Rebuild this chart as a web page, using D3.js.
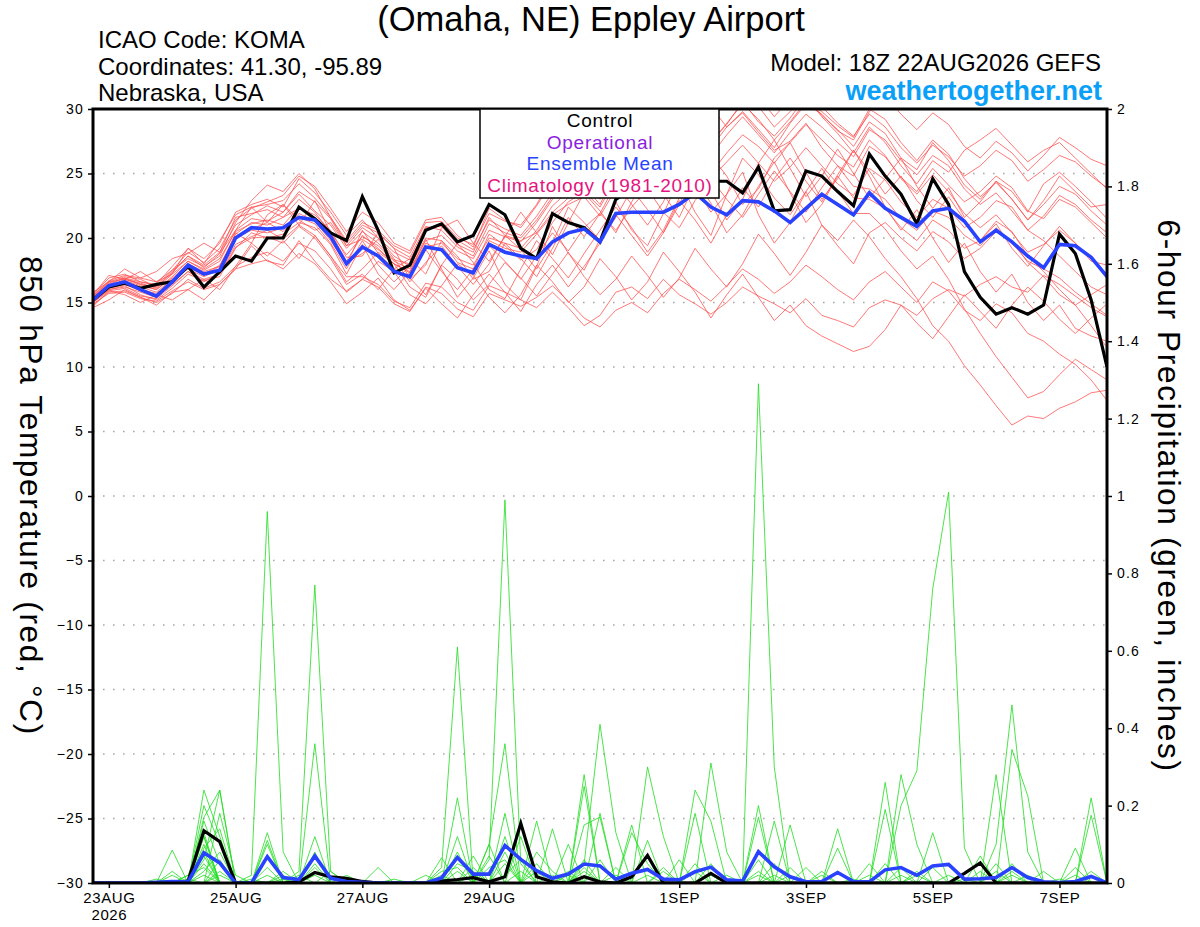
<!DOCTYPE html>
<html>
<head>
<meta charset="utf-8">
<script src="https://cdn.jsdelivr.net/npm/d3@7/dist/d3.min.js"></script>
<style>
  body { margin: 0; background: #fff; }
  text { font-family: "Liberation Sans", Arial, Helvetica, sans-serif; }
</style>
</head>
<body>
<svg id="chart" width="1200" height="927"></svg>
<script>
// run info
const runStart = Date.UTC(2026, 7, 22, 18)   // 18Z 22AUG2026
const stepHours = 6

const tempTicks = [-30, -25, -20, -15, -10, -5, 0, 5, 10, 15, 20, 25, 30]
const precipTicks = [0, 0.2, 0.4, 0.6, 0.8, 1, 1.2, 1.4, 1.6, 1.8, 2]
const dayTicks = ['2026-08-23', '2026-08-25', '2026-08-27', '2026-08-29', '2026-09-01', '2026-09-03', '2026-09-05', '2026-09-07']
const dayLabels = ['23AUG', '25AUG', '27AUG', '29AUG', '1SEP', '3SEP', '5SEP', '7SEP']
const legendItems = ['Control', 'Operational', 'Ensemble Mean', 'Climatology (1981-2010)']

// control run + ensemble mean, 850 hPa temp (C)
const controlTemp = [15.2,16.2,16.5,16.1,16.4,16.6,17.8,16.2,17.4,18.6, 18.2,20.0,20.0,22.4,21.5,20.4,19.8,23.2,20.6,17.3,
  17.9,20.6,21.1,19.7,20.2,22.6,21.8,19.2,18.4,21.9, 21.2,20.8,19.7,23.0,23.8,24.0,23.5,24.2,24.8,24.4,
  24.4,23.5,25.5,22.1,22.2,25.2,24.8,23.6,22.5,26.5, 24.8,23.4,21.1,24.6,22.6,17.4,15.4,14.1,14.6,14.1, 14.8,20.3,18.8,15.2,10.0]
const meanTemp = [15.2,16.3,16.6,16.0,15.5,16.6,17.9,17.2,17.5,20.0, 20.8,20.7,20.8,21.6,21.4,20.1,18.0,19.3,18.6,17.4,
  17.0,19.3,19.1,17.7,17.3,19.5,18.9,18.6,18.4,19.7, 20.4,20.7,19.7,21.9,22.0,22.0,22.0,22.6,23.5,22.4,
  21.8,22.9,22.8,22.1,21.2,22.3,23.4,22.6,21.8,23.5, 22.3,21.6,20.9,22.1,22.3,21.3,19.7,20.6,19.7,18.6, 17.7,19.5,19.4,18.5,17.0]

// 6-hour precip (in)
const controlPrecip = [0,0,0,0,0, 0,.005,.135,.107,0, 0,0,0,.003,.027, .016,.012,.004,0,0, 0,0,.005,.009,.014,
  .003,.016,.154,.016,.003, 0,.016,.003,0,.016, .071,0,0,0,.025, 0,0,0,0,0, 0,0,0,0,0, 0,0,0,0,0, .025,.052,0,0,0, 0,0,0,0,0]
const meanPrecip = [0,0,0,0,.002, .004,.003,.078,.052,0, 0,.068,.014,.009,.07, .012,.004,.002,0,0, 0,0,.013,.066,.023,
  .023,.097,.061,.032,.012, .023,.049,.044,.01,.025, .035,.01,.008,.029,.041, .008,.005,.081,.042,.016,
  .003,.004,.027,.004,.003, .034,.04,.02,.044,.048, .01,.011,.014,.04,.014, .003,.001,.004,.017,0]

// ensemble members, temperature
const t01 = [15.4,16.6,17.0,16.8,16.2,17.4,18.6,17.9,18.9, 21.0,21.8,22.5,22.0,23.4,22.1,21.0,19.2,
  20.5,19.6,18.3,18.0,20.8,20.9,19.5,18.9,21.6,20.2,19.8,20.4,22.0,23.1,24.0,22.6,
  25.1,26.3,25.4,27.0,28.2,29.1,27.5,28.8,30.6,29.0,27.9,29.3,31.0,29.5,28.4,27.1,
  29.0,28.1,26.2,25.3,27.4,26.0,24.1,23.0,24.4,23.6,22.0,24.2,25.1,24.0,22.8,21.5]
const t02 = [15.0,16.0,16.3,15.6,15.2,16.1,17.2,16.7,17.0, 19.2,20.4,20.0,20.3,21.2,20.8,19.5,17.2,
  19.5,17.2,16.0,17.4,19.9,17.6,15.4,16.9,19.0,16.4,15.2,17.8,20.9,18.8,17.5,19.9,
  22.8,20.6,19.4,21.9,24.5,22.0,20.2,23.4,25.1,21.8,19.6,21.2,23.6,21.0,19.8,21.4,
  20.1,18.4,17.0,15.3,13.2,12.0,10.1,8.6,7.0,5.5,6.2,6.0,6.8,7.3,8.0,8.2]
const t03 = [14.8,15.8,15.9,15.4,15.0,15.7,16.8,16.1,16.6, 17.8,19.6,18.6,19.8,18.4,20.2,18.6,17.0,
  17.0,16.4,15.1,14.6,16.5,16.2,15.0,14.4,16.3,15.8,15.2,14.6,15.8,14.6,13.2,14.0,
  15.8,16.2,15.3,16.8,15.6,14.9,14.1,15.0,16.2,15.5,14.9,14.2,15.3,14.0,13.6,13.1,
  14.6,15.2,14.8,14.0,15.3,16.0,15.5,16.4,17.0,16.2,15.8,17.1,16.4,15.5,14.6,13.9]
const t04 = [15.6,16.9,17.2,16.6,16.4,17.8,19.2,18.4,19.6, 22.0,22.6,23.0,22.4,24.6,23.5,22.0,20.2,
  21.4,20.0,18.6,17.8,20.0,19.8,18.1,17.6,20.3,19.4,18.3,19.1,21.2,22.8,23.6,22.4,
  24.6,25.8,26.9,28.5,27.6,29.4,30.2,28.6,29.7,28.2,26.8,27.5,28.9,27.0,25.6,24.8,
  27.1,26.3,24.7,23.6,25.4,24.1,22.8,23.6,24.8,23.9,22.1,21.5,23.0,22.4,21.2,20.0]
const t05 = [15.1,16.2,16.8,16.4,16.0,16.9,18.0,17.4,17.8, 20.3,21.2,21.0,21.6,22.3,21.8,20.6,18.5,
  18.6,20.4,19.2,16.8,17.9,20.8,21.4,19.6,18.2,20.1,22.0,20.4,18.7,21.2,23.5,22.1,
  20.4,22.8,25.0,23.4,21.6,24.2,26.4,24.8,22.6,23.8,26.2,27.4,25.1,23.0,24.6,26.8,
  24.8,22.4,20.6,22.2,20.0,18.1,19.6,17.4,15.8,17.2,15.0,13.6,14.8,13.0,12.4,12.0]
const t06 = [14.7,15.9,15.6,15.0,15.6,15.2,16.0,16.8,16.0, 17.8,18.5,18.9,18.2,19.6,19.0,17.6,15.8,
  16.8,18.2,17.4,15.6,14.9,16.3,18.0,17.1,15.4,14.2,15.6,17.9,16.6,15.0,16.2,18.4,
  17.0,15.2,16.6,18.9,17.4,15.8,13.8,15.6,17.2,15.4,13.6,14.8,13.2,12.4,11.8,11.2,
  11.6,12.9,14.8,13.4,12.2,13.9,15.6,14.3,13.0,14.8,16.2,15.1,13.7,12.6,13.8,14.9]
const t07 = [15.5,16.7,17.1,16.9,16.6,17.5,18.9,18.1,19.2, 21.4,22.3,22.8,23.3,24.8,24.0,22.3,20.5,
  22.0,21.2,19.6,19.0,21.4,21.6,20.2,19.3,22.3,21.4,20.8,22.5,24.4,25.8,27.0,25.2,
  27.4,28.8,27.2,29.4,30.8,31.4,29.6,30.6,31.8,30.2,28.6,29.8,30.9,29.4,28.1,26.6,
  28.6,27.4,25.6,24.2,26.0,25.1,26.8,27.6,28.5,27.2,25.9,26.8,27.4,26.2,25.0,23.8]
const t08 = [15.3,16.4,16.5,16.2,15.8,16.8,17.6,17.0,17.6, 20.4,19.6,21.8,22.6,21.0,22.9,20.4,18.2,
  20.2,19.2,18.0,17.4,19.6,19.0,17.8,17.2,19.8,19.2,18.9,20.3,21.8,22.6,23.2,21.7,
  23.8,24.9,24.2,25.8,26.4,25.3,24.6,25.9,27.2,25.8,24.4,25.5,27.0,25.6,24.2,23.3,
  25.4,24.5,22.8,21.6,23.0,22.3,20.8,21.6,22.9,22.4,20.6,21.7,23.3,22.6,21.4,20.4]
const t09 = [15.0,15.9,16.1,15.5,15.3,16.3,17.4,16.6,17.3, 19.5,20.1,20.6,19.9,21.0,20.2,18.6,16.6,
  17.6,18.9,18.0,16.2,15.4,17.9,19.6,18.1,16.0,15.3,17.6,19.8,18.4,16.9,18.8,20.6,
  22.4,20.8,18.9,20.6,23.1,24.6,22.7,20.4,21.8,24.0,25.9,23.5,21.2,22.6,24.8,23.1,
  23.0,22.3,20.8,19.8,21.4,20.6,19.2,19.8,21.3,20.5,18.6,17.4,16.0,14.8,13.2,11.5]
const t10 = [15.8,16.6,17.6,16.9,17.4,18.4,18.8,19.6,18.9, 21.6,21.9,22.2,21.6,23.0,22.0,20.4,18.7,
  20.1,19.4,18.2,17.6,19.8,20.2,19.0,18.4,20.6,20.1,19.7,21.2,23.0,24.2,25.5,24.1,
  26.0,27.2,26.1,27.8,29.0,28.1,27.0,28.6,29.8,28.4,27.0,28.9,30.4,29.6,28.3,27.6,
  29.8,31.0,29.6,28.4,29.7,28.8,27.1,26.2,27.5,26.6,25.2,26.4,27.8,27.0,26.1,25.6]
const t11 = [15.2,16.1,16.4,15.9,15.6,16.5,17.7,17.2,17.9, 20.1,20.7,21.2,20.5,21.9,21.3,19.8,17.9,
  20.6,18.8,17.6,18.4,17.2,19.8,18.6,16.8,17.4,19.6,18.4,17.0,19.2,21.6,20.1,21.9,
  24.2,22.6,21.0,22.8,25.6,24.0,22.0,23.4,26.2,24.9,23.1,21.8,23.6,25.4,23.6,21.9,
  21.9,20.7,19.0,17.6,18.6,16.8,14.5,12.6,10.8,9.2,7.6,8.1,9.4,10.6,9.8,9.0]
const t12 = [15.4,16.5,16.9,16.6,16.3,17.5,18.4,17.8,18.6, 21.2,22.9,24.1,23.6,25.0,23.8,21.6,19.6,
  21.0,20.4,19.2,18.5,20.9,20.6,19.3,18.6,21.1,20.4,20.0,21.4,23.2,23.9,24.8,23.0,
  25.1,26.0,24.9,26.4,27.2,26.0,25.0,26.6,28.0,27.1,25.8,27.4,28.8,27.6,26.4,25.5,
  27.6,26.4,24.6,23.4,24.9,23.6,21.9,20.8,21.8,20.4,18.9,19.5,20.6,19.6,18.4,17.2]
const t13 = [14.6,15.2,16.0,15.4,14.8,15.8,16.0,15.2,16.4, 17.6,18.0,18.3,17.6,18.8,18.0,16.6,14.9,
  15.8,16.9,15.2,14.4,16.1,14.9,13.8,15.6,17.2,15.8,14.3,16.4,17.9,16.2,17.8,19.6,
  21.8,20.2,18.6,20.4,22.9,21.4,19.6,21.8,23.9,22.4,24.6,26.2,24.4,22.8,24.9,26.8,
  25.2,23.4,24.8,22.9,21.6,23.2,21.4,19.8,21.1,19.2,17.8,19.4,20.9,19.6,18.2,17.9]
const t14 = [15.3,16.3,16.7,16.3,16.0,17.0,18.2,17.5,18.2, 20.6,21.5,21.3,22.0,23.6,22.8,21.5,19.4,
  20.8,20.0,18.9,18.3,20.6,21.0,19.8,19.1,21.4,20.7,20.2,21.7,23.5,24.8,25.9,24.5,
  26.6,27.8,26.6,28.0,29.2,28.4,27.3,28.9,30.4,29.2,27.6,29.0,30.6,29.8,28.7,27.8,
  30.0,29.2,27.4,26.0,27.6,26.5,24.6,23.2,24.3,23.0,21.4,22.6,24.0,23.4,22.1,21.0]
const t15 = [14.9,15.7,15.8,15.3,15.1,15.9,16.6,16.0,16.4, 17.6,19.4,18.2,17.9,19.8,18.2,16.8,15.9,
  16.8,16.2,14.9,14.3,16.2,15.7,14.5,13.9,15.7,15.2,14.7,15.4,16.3,15.1,13.8,13.1,
  14.4,15.0,14.2,15.7,16.8,16.0,15.1,16.3,17.6,16.8,15.7,16.6,17.9,17.0,16.0,15.2,
  16.6,17.4,16.2,15.0,16.6,15.9,14.4,13.6,14.9,14.2,12.6,12.0,11.0,10.2,9.0,7.4]
const t16 = [15.5,16.6,16.8,16.5,16.1,17.2,18.2,17.6,18.4, 20.5,21.1,21.4,21.0,22.4,21.5,20.0,18.1,
  18.8,19.9,18.4,16.6,18.1,19.4,17.8,16.4,18.0,20.2,19.1,17.6,19.6,22.4,21.2,19.8,
  21.6,23.8,22.2,20.4,22.6,25.2,23.6,21.4,23.0,25.8,27.6,25.4,23.2,24.8,26.9,25.0,
  23.1,24.6,26.2,24.0,22.3,23.9,21.6,22.8,24.4,23.0,21.4,22.9,24.8,23.6,22.4,22.6]
const t17 = [15.1,16.0,16.2,15.8,15.4,16.4,17.4,16.8,17.2, 19.3,20.0,20.1,19.6,20.9,20.0,18.4,16.4,
  17.2,16.0,17.6,16.9,15.6,17.9,16.8,15.2,16.4,18.1,16.9,15.5,17.2,18.9,17.0,15.6,
  16.8,18.6,17.1,15.4,16.9,19.2,17.6,16.2,18.0,20.3,18.8,17.1,18.9,21.0,19.4,18.0,
  20.4,21.2,20.0,19.0,20.5,19.7,18.4,19.2,20.5,19.8,18.1,17.0,15.6,14.8,15.6,16.4]
const t18 = [15.6,17.1,16.8,17.4,16.6,17.2,19.2,18.0,19.8, 21.8,22.4,22.6,22.9,24.2,23.1,21.6,19.8,
  21.2,20.6,19.4,18.8,21.2,21.3,20.0,19.5,21.9,21.3,21.0,22.6,24.8,26.2,27.8,26.6,
  28.6,29.8,28.6,30.4,31.6,30.6,29.8,31.2,32.4,31.0,29.4,30.8,31.8,30.2,28.9,27.9,
  29.6,28.6,27.0,25.8,27.2,26.3,24.8,25.6,26.8,26.0,24.4,25.3,26.4,25.9,24.8,23.9]
const t19 = [15.2,16.3,16.6,16.0,15.7,16.7,17.8,17.1,17.8, 20.0,20.6,20.4,20.8,21.6,21.1,19.6,17.6,
  19.8,17.9,16.6,17.8,19.1,17.4,16.0,17.6,19.4,18.2,16.8,18.6,20.4,19.0,20.8,21.9,
  20.6,22.4,23.8,22.0,20.8,22.9,24.6,23.0,21.6,23.4,25.2,23.6,22.0,23.9,25.6,24.0,
  23.8,23.0,21.5,20.6,22.1,21.6,20.2,19.4,20.8,19.6,18.2,17.6,16.9,15.8,14.9,14.0]
const t20 = [15.4,16.4,16.9,16.4,16.2,17.3,18.6,17.7,18.8, 20.6,22.4,21.2,22.6,21.4,20.6,21.2,19.4,
  19.9,19.1,18.0,17.3,19.3,19.6,18.4,17.9,20.0,19.6,19.2,20.6,22.5,23.6,24.9,23.6,
  25.6,26.5,25.6,27.2,28.4,27.4,26.4,28.0,29.4,28.0,26.6,28.2,29.6,28.6,27.4,26.3,
  28.4,27.6,26.0,24.9,26.4,25.6,23.8,22.6,23.5,22.1,20.6,19.8,18.6,17.4,16.2,15.6]

// ensemble members, 6-hour precip
const p01 = [0,0,0,0,0, 0,0,.24,.12,0, .02,.96,.08,0,0, 0,0,0,0,0, 0,0,0,0,0, .10,0,0,0,0, 0,0,0,0,0, .11,0,0,0,0, 0,0,0,0,0, 0,0,0,0,0, .26,0,0,0,0, 0,0,0,0,0, 0,0,0,0,0]
const p02 = [0,0,0,0,0, 0,0,.17,.24,0, 0,0,0,.03,.77, .03,0,0,0,0, 0,0,0,0,0, 0,.18,0,0,0, 0,.28,0,0,0, 0,0,0,0,0, 0,0,.20,0,0, 0,0,0,0,0, 0,0,0,0,0, 0,0,.10,.46,.08, 0,0,0,0,0]
const p03 = [0,0,0,0,0, .085,0,.12,0,0, 0,0,0,0,.36, 0,0,0,0,0, 0,0,0,.22,0, 0,0,0,0,0, 0,.05,.41,.13,0, 0,0,0,0,0, 0,0,0,.16,0, 0,0,0,0,0, 0,0,0,.13,0, 0,0,0,0,0, 0,0,0,.22,0]
const p04 = [0,0,0,0,0, 0,0,.16,.05,0, 0,0,0,0,0, 0,0,0,0,0, 0,0,.04,.61,0, 0,0,0,.16,0, 0,0,0,0,0, 0,0,0,.24,.16, 0,0,0,0,0, 0,0,0,0,0, 0,.28,.10,0,0, 0,0,0,0,0, 0,0,0,0,0]
const p05 = [0,0,0,0,0, 0,0,.05,0,0, 0,.13,0,0,0, 0,0,0,0,0, 0,0,0,0,0, .06,.99,.05,0,0, 0,0,0,0,0, .30,.12,0,0,0, 0,0,.17,0,0, 0,0,0,0,0, 0,0,0,0,0, 0,0,0,.345,.225, 0,0,0,0,0]
const p06 = [0,0,0,0,0, 0,0,.08,0,0, 0,0,0,0,.12, 0,0,0,0,0, 0,0,.065,0,0, .10,.36,0,0,0, 0,.25,0,0,0, 0,0,0,0,.31, .08,0,0,0,0, 0,0,.14,0,0, 0,0,0,0,0, 0,0,0,0,0, 0,0,.09,0,0]
const p07 = [0,0,0,0,0, 0,0,.10,0,0, 0,.11,0,0,0, 0,0,0,0,0, 0,0,0,.08,0, 0,0,0,0,.14, 0,0,0,0,0, 0,0,0,.18,0, 0,0,1.29,.30,0, 0,0,0,0,0, .19,0,0,0,0, 0,0,.28,0,0, 0,0,0,0,0]
const p08 = [0,0,0,0,0, 0,0,.06,.24,0, 0,0,0,0,0, 0,0,0,0,0, 0,0,0,0,.07, 0,0,0,0,0, 0,0,.18,0,0, 0,0,0,0,0, 0,0,0,0,.15, 0,0,0,0,0, 0,.20,.29,.76,1.01, .09,0,0,0,0, 0,0,0,0,0]
const p09 = [0,0,0,0,0, 0,.02,.04,0,0, 0,0,.02,0,0, 0,0,0,0,0, 0,0,0,0,0, 0,.05,0,.05,0, 0,.15,.17,0,.15, 0,0,0,0,0, 0,0,0,0,0, 0,0,.09,0,0, 0,0,0,0,0, 0,0,0,.05,0, 0,0,0,.175,0]
const p10 = [0,0,0,0,0, .02,0,.03,.08,0, 0,.10,0,0,.08, 0,0,0,.04,0, 0,0,0,0,0, 0,0,.12,0,0, .10,0,0,0,0, 0,.04,0,0,0, 0,0,.06,0,0, 0,0,0,0,.05, 0,0,0,0,0, 0,.07,0,0,0, 0,0,0,0,0]
const p11 = [0,0,0,0,0, 0,0,.09,.14,0, 0,0,0,0,0, 0,0,0,0,0, 0,0,0,.05,.03, 0,.08,0,0,0, 0,0,0,0,.13, .05,0,0,0,0, 0,0,0,0,0, .04,0,0,0,0, 0,.04,0,0,0, 0,0,0,0,0, .03,0,0,0,0]
const p12 = [0,0,0,0,0, 0,0,.20,.10,0, 0,0,.03,0,0, 0,0,0,0,0, 0,0,.02,0,0, .04,.06,0,0,0, 0,0,0,0,0, 0,0,.06,0,0, 0,0,0,.02,0, 0,.03,0,0,0, 0,0,0,.04,0, 0,0,0,.02,0, 0,0,0,0,0]
const p13 = [0,0,0,0,0, 0,0,0,.18,.02, 0,0,0,0,0, 0,.02,0,0,0, 0,.02,0,0,0, 0,0,0,.08,.03, 0,0,0,.02,0, 0,0,0,0,.05, 0,0,0,0,.02, 0,0,0,0,0, 0,0,.03,0,0, 0,0,0,0,0, 0,.01,0,0,0]
const p14 = [0,0,0,0,.01, 0,.02,.13,0,0, 0,0,0,0,0, .03,0,0,0,0, 0,0,0,.12,0, 0,0,.03,0,0, 0,.06,0,0,0, 0,0,0,.05,0, 0,0,.03,0,0, 0,0,0,0,0, .05,0,0,0,0, 0,0,.03,0,0, 0,0,0,0,0]
const p15 = [0,0,0,0,0, 0,0,.07,0,0, 0,.04,0,0,.04, 0,0,0,0,0, 0,0,0,0,.04, 0,.12,0,0,0, .03,0,0,0,0, 0,0,0,0,0, .02,0,0,0,0, 0,0,.03,0,0, 0,0,0,0,.02, 0,0,0,0,0, 0,0,.02,0,0]
const p16 = [0,0,0,0,0, 0,.01,0,.06,0, 0,0,0,.02,0, 0,0,0,0,0, 0,0,.03,.04,0, 0,0,0,.03,0, 0,0,.06,0,0, .02,0,0,0,0, 0,0,0,.05,0, 0,0,0,0,0, 0,.02,0,0,0, 0,0,0,0,0, 0,0,0,.03,0]
const p17 = [0,0,0,0,0, 0,0,.02,0,0, .01,0,0,0,.02, 0,0,0,0,.01, 0,0,0,0,0, .07,0,0,0,.02, 0,.04,0,0,0, 0,.03,0,0,0, 0,0,0,0,.04, 0,0,0,0,0, 0,0,0,0,0, .01,0,0,0,.02, 0,0,0,0,0]
const p18 = [0,0,0,0,0, .03,0,0,.03,0, 0,0,.01,0,0, 0,0,0,0,0, 0,0,0,0,0, 0,.02,.06,0,0, 0,0,0,.04,0, 0,0,0,0,0, 0,0,.02,0,0, 0,0,0,.01,0, 0,0,.02,0,0, 0,0,0,.03,0, 0,0,0,0,0]
const p19 = [0,0,0,0,0, 0,0,.12,0,0, 0,.02,0,0,0, 0,0,0,0,0, 0,0,0,.03,0, 0,0,0,0,0, .02,0,0,0,0, 0,0,0,.03,0, 0,0,0,0,0, 0,.02,0,0,0, 0,0,0,0,0, 0,.03,0,0,0, 0,0,0,0,0]
const p20 = [0,0,0,0,0, 0,0,0,.02,0, 0,0,0,0,.05, 0,0,0,0,0, 0,0,0,0,.02, 0,0,0,0,0, 0,.03,0,0,0, 0,0,0,0,.02, 0,0,0,0,0, 0,0,0,0,.02, 0,0,0,0,0, 0,0,.05,0,0, 0,0,.04,0,0]

const memberTemps = [t01,t02,t03,t04,t05,t06,t07,t08,t09,t10,t11,t12,t13,t14,t15,t16,t17,t18,t19,t20]
const memberPrecips = [p01,p02,p03,p04,p05,p06,p07,p08,p09,p10,p11,p12,p13,p14,p15,p16,p17,p18,p19,p20]

const margin = {left: 93, right: 1107, top: 109, bottom: 883}
const svg = d3.select('#chart')

const validTime = i => new Date(runStart + i * stepHours * 3600e3)
const x = d3.scaleUtc()
  .domain([validTime(0), validTime(controlTemp.length - 1)])
  .range([margin.left, margin.right])
const yT = d3.scaleLinear().domain([-30, 30]).range([margin.bottom, margin.top])
const yP = d3.scaleLinear().domain([0, 2]).range([margin.bottom, margin.top])

const tempLine = d3.line().x((d, i) => x(validTime(i))).y(d => yT(d))
const precipLine = d3.line().x((d, i) => x(validTime(i))).y(d => yP(d))

svg.append('rect').attr('width', 1200).attr('height', 927).attr('fill', '#fff')

svg.append('defs').append('clipPath').attr('id', 'plot')
  .append('rect')
  .attr('x', margin.left).attr('y', margin.top)
  .attr('width', margin.right - margin.left).attr('height', margin.bottom - margin.top)

// dotted grid
svg.append('g')
  .selectAll('line')
  .data(tempTicks.filter(d => d > -30 && d < 30))
  .enter().append('line')
  .attr('x1', margin.left).attr('x2', margin.right)
  .attr('y1', d => yT(d)).attr('y2', d => yT(d))
  .attr('stroke', '#a8a8a8').attr('stroke-width', 1.6)
  .attr('stroke-dasharray', '1.6,8.4')

const plot = svg.append('g').attr('clip-path', 'url(#plot)')

plot.append('g').selectAll('path')
  .data(memberTemps)
  .enter().append('path')
  .attr('d', tempLine)
  .attr('fill', 'none').attr('stroke', '#ff4d4d').attr('stroke-width', 0.9).attr('stroke-opacity', 0.85)

plot.append('g').selectAll('path')
  .data(memberPrecips)
  .enter().append('path')
  .attr('d', precipLine)
  .attr('fill', 'none').attr('stroke', '#22dd22').attr('stroke-width', 0.9).attr('stroke-opacity', 0.9)

plot.append('path').datum(controlTemp).attr('d', tempLine)
  .attr('fill', 'none').attr('stroke', '#000').attr('stroke-width', 3.2)
plot.append('path').datum(controlPrecip).attr('d', precipLine)
  .attr('fill', 'none').attr('stroke', '#000').attr('stroke-width', 3.2)
plot.append('path').datum(meanTemp).attr('d', tempLine)
  .attr('fill', 'none').attr('stroke', '#2842ff').attr('stroke-width', 3.6)
plot.append('path').datum(meanPrecip).attr('d', precipLine)
  .attr('fill', 'none').attr('stroke', '#2842ff').attr('stroke-width', 3.6)

// axes
const left = svg.append('g')
  .attr('transform', `translate(${margin.left},0)`)
  .call(d3.axisLeft(yT).tickValues(tempTicks).tickSize(5).tickPadding(4))
const right = svg.append('g')
  .attr('transform', `translate(${margin.right},0)`)
  .call(d3.axisRight(yP).tickValues(precipTicks).tickSize(5).tickPadding(5)
    .tickFormat(d => String(+d.toFixed(1))))
const bottom = svg.append('g')
  .attr('transform', `translate(0,${margin.bottom})`)
  .call(d3.axisBottom(x).tickValues(dayTicks.map(d => new Date(d + 'T00:00Z')))
    .tickSize(5).tickPadding(4).tickFormat((d, i) => dayLabels[i]))

;[left, right, bottom].forEach(g => {
  g.select('.domain').remove()
  g.selectAll('.tick line').attr('stroke', '#000').attr('stroke-width', 1.5)
  g.selectAll('.tick text').attr('fill', '#000').attr('font-size', 14)
    .attr('letter-spacing', 1.2)
    .attr('font-family', '"Liberation Sans", Arial, sans-serif')
})
bottom.selectAll('.tick text').attr('font-size', 15).attr('letter-spacing', 0.6)
bottom.select('.tick').append('text')
  .attr('y', 37).attr('text-anchor', 'middle').attr('fill', '#000')
  .attr('font-size', 15).attr('letter-spacing', 0.6).text('2026')

// frame
svg.append('rect')
  .attr('x', margin.left).attr('y', margin.top)
  .attr('width', margin.right - margin.left).attr('height', margin.bottom - margin.top)
  .attr('fill', 'none').attr('stroke', '#000').attr('stroke-width', 3)

// legend
const lg = svg.append('g')
lg.append('rect').attr('x', 480).attr('y', margin.top).attr('width', 239).attr('height', 89)
  .attr('fill', '#fff').attr('stroke', '#000').attr('stroke-width', 1.5)
const legendColors = ['#000', '#8a1ee0', '#2842ff', '#e6137f']
lg.selectAll('text').data(legendItems).enter().append('text')
  .attr('x', 600).attr('y', (d, i) => 127 + i * 21.6)
  .attr('text-anchor', 'middle').attr('font-size', 19).attr('letter-spacing', 0.75)
  .attr('fill', (d, i) => legendColors[i]).text(d => d)

// header text
svg.append('text').attr('x', 591).attr('y', 31).attr('text-anchor', 'middle')
  .attr('font-size', 34.5).text('(Omaha, NE) Eppley Airport')
const info = ['ICAO Code: KOMA', 'Coordinates: 41.30, -95.89', 'Nebraska, USA']
svg.append('g').selectAll('text').data(info).enter().append('text')
  .attr('x', 98).attr('y', (d, i) => 48 + i * 26.5).attr('font-size', 24).text(d => d)
svg.append('text').attr('x', 1101).attr('y', 70.5).attr('text-anchor', 'end')
  .attr('font-size', 24).text('Model: 18Z 22AUG2026 GEFS')
svg.append('text').attr('x', 1102).attr('y', 100).attr('text-anchor', 'end')
  .attr('font-size', 27).attr('font-weight', 'bold').attr('fill', '#0aa0f8')
  .text('weathertogether.net')

// axis titles
svg.append('text').attr('transform', 'translate(20,496) rotate(90)')
  .attr('text-anchor', 'middle').attr('font-size', 31.5).attr('letter-spacing', 1.7)
  .text('850 hPa Temperature (red, °C)')
svg.append('text').attr('transform', 'translate(1158,496) rotate(90)')
  .attr('text-anchor', 'middle').attr('font-size', 31.5).attr('letter-spacing', 1.7)
  .text('6-hour Precipitation (green, inches)')
</script>
</body>
</html>
